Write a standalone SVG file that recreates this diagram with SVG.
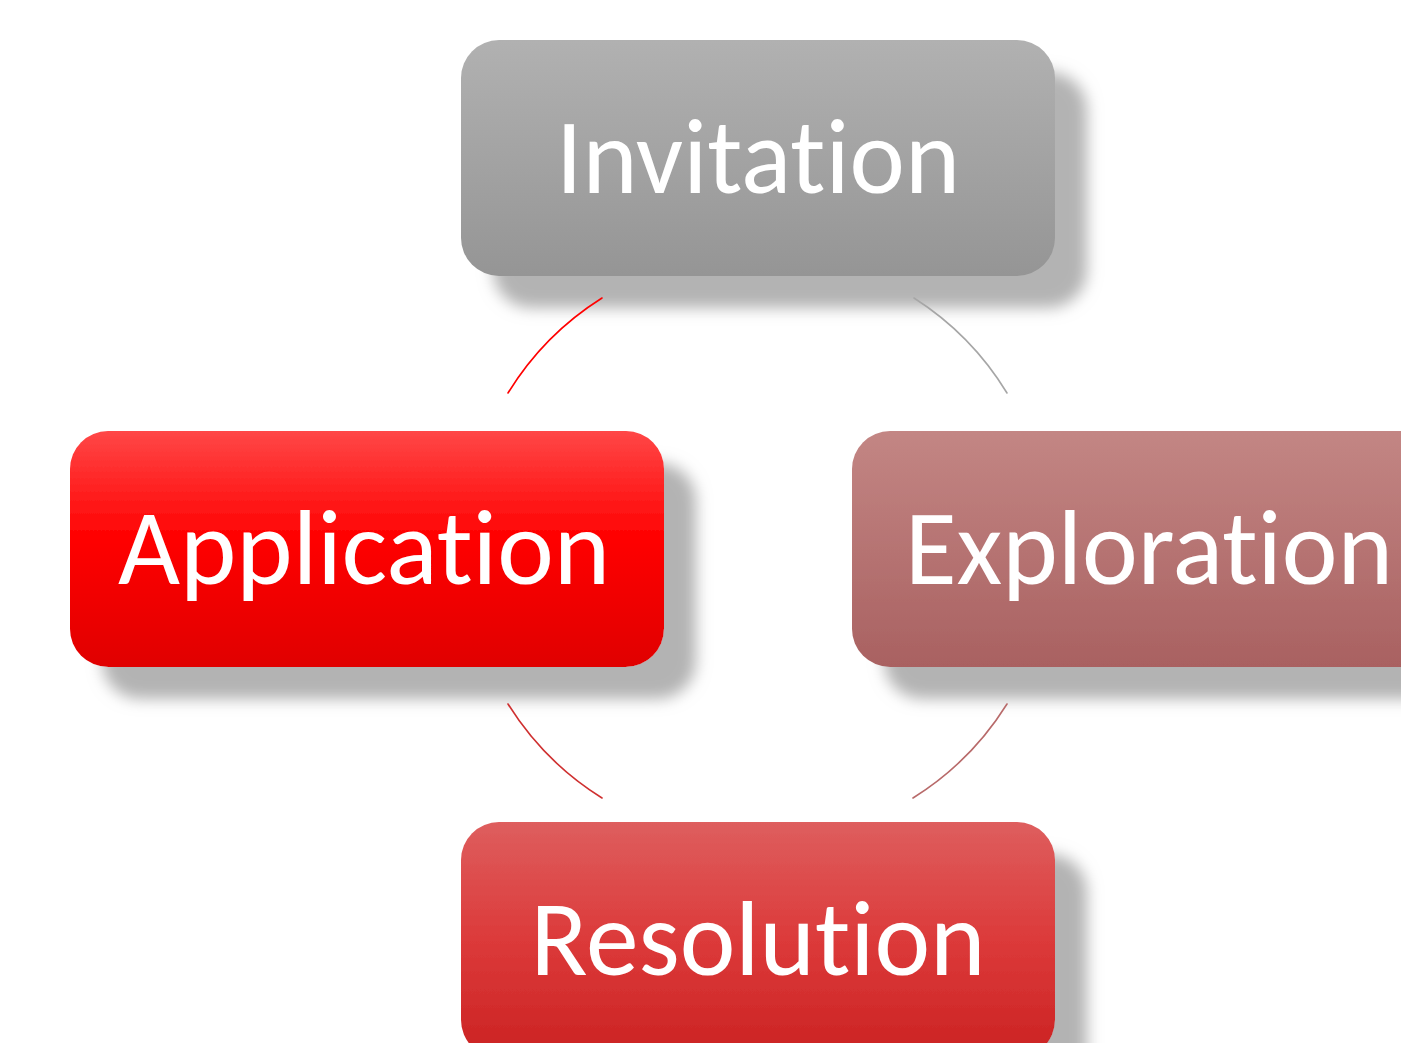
<svg xmlns="http://www.w3.org/2000/svg" width="1401" height="1043" viewBox="0 0 1401 1043">
  <defs>
    <style>
      .box { stroke: none; }
      .label { font-family: "Carlito", "Open Sans", "Liberation Sans", sans-serif; font-size: 106px; fill: #ffffff; text-anchor: middle; font-variant-ligatures: none; font-feature-settings: "liga" 0, "dlig" 0; }
      .arc { fill: none; stroke-width: 1.6; stroke-linecap: round; }
    </style>
    <filter id="shadow" x="-10%" y="-20%" width="130%" height="160%">
      <feDropShadow dx="32" dy="32" stdDeviation="7.5" flood-color="#b3b3b3" flood-opacity="1"/>
    </filter>
    <linearGradient id="gInvitation" x1="0" y1="0" x2="0" y2="1">
      <stop offset="0" stop-color="#b1b1b1"/>
      <stop offset="1" stop-color="#959595"/>
    </linearGradient>
    <linearGradient id="gApplication" x1="0" y1="0" x2="0" y2="1">
      <stop offset="0" stop-color="#ff4747"/>
      <stop offset="0.45" stop-color="#ff0202"/>
      <stop offset="1" stop-color="#e00000"/>
    </linearGradient>
    <linearGradient id="gExploration" x1="0" y1="0" x2="0" y2="1">
      <stop offset="0" stop-color="#c38684"/>
      <stop offset="1" stop-color="#a96161"/>
    </linearGradient>
    <linearGradient id="gResolution" x1="0" y1="0" x2="0" y2="1">
      <stop offset="0" stop-color="#de5e5e"/>
      <stop offset="0.5" stop-color="#dc3a3a"/>
      <stop offset="1" stop-color="#cb2222"/>
    </linearGradient>
  </defs>

  <rect width="1401" height="1043" fill="#ffffff"/>

  <g id="node-invitation" filter="url(#shadow)">
    <rect class="box" x="461" y="40" width="594" height="236" rx="38" fill="url(#gInvitation)"/>
    <text class="label" x="758" y="193" textLength="404" lengthAdjust="spacingAndGlyphs">Invitation</text>
  </g>

  <g id="node-application" filter="url(#shadow)">
    <rect class="box" x="70" y="431" width="594" height="236" rx="38" fill="url(#gApplication)"/>
    <text class="label" x="364" y="584" textLength="492" lengthAdjust="spacingAndGlyphs">Application</text>
  </g>

  <g id="node-exploration" filter="url(#shadow)">
    <rect class="box" x="852" y="431" width="594" height="236" rx="38" fill="url(#gExploration)"/>
    <text class="label" x="1149" y="584" textLength="488" lengthAdjust="spacingAndGlyphs">Exploration</text>
  </g>

  <g id="node-resolution" filter="url(#shadow)">
    <rect class="box" x="461" y="822" width="594" height="236" rx="38" fill="url(#gResolution)"/>
    <text class="label" x="758" y="975" textLength="455" lengthAdjust="spacingAndGlyphs">Resolution</text>
  </g>

  <!-- cycle connectors: arcs of one circle centred at (758,549), r = 295 -->
  <g id="connectors">
    <path class="arc" stroke="#ff0000" d="M 508 393 A 295 295 0 0 1 602 298"/>
    <path class="arc" stroke="#a6a6a6" d="M 914 298 A 295 295 0 0 1 1007 393"/>
    <path class="arc" stroke="#b86a6a" d="M 1007 704 A 295 295 0 0 1 913 798"/>
    <path class="arc" stroke="#cf3030" d="M 602 798 A 295 295 0 0 1 508 704"/>
  </g>
</svg>
